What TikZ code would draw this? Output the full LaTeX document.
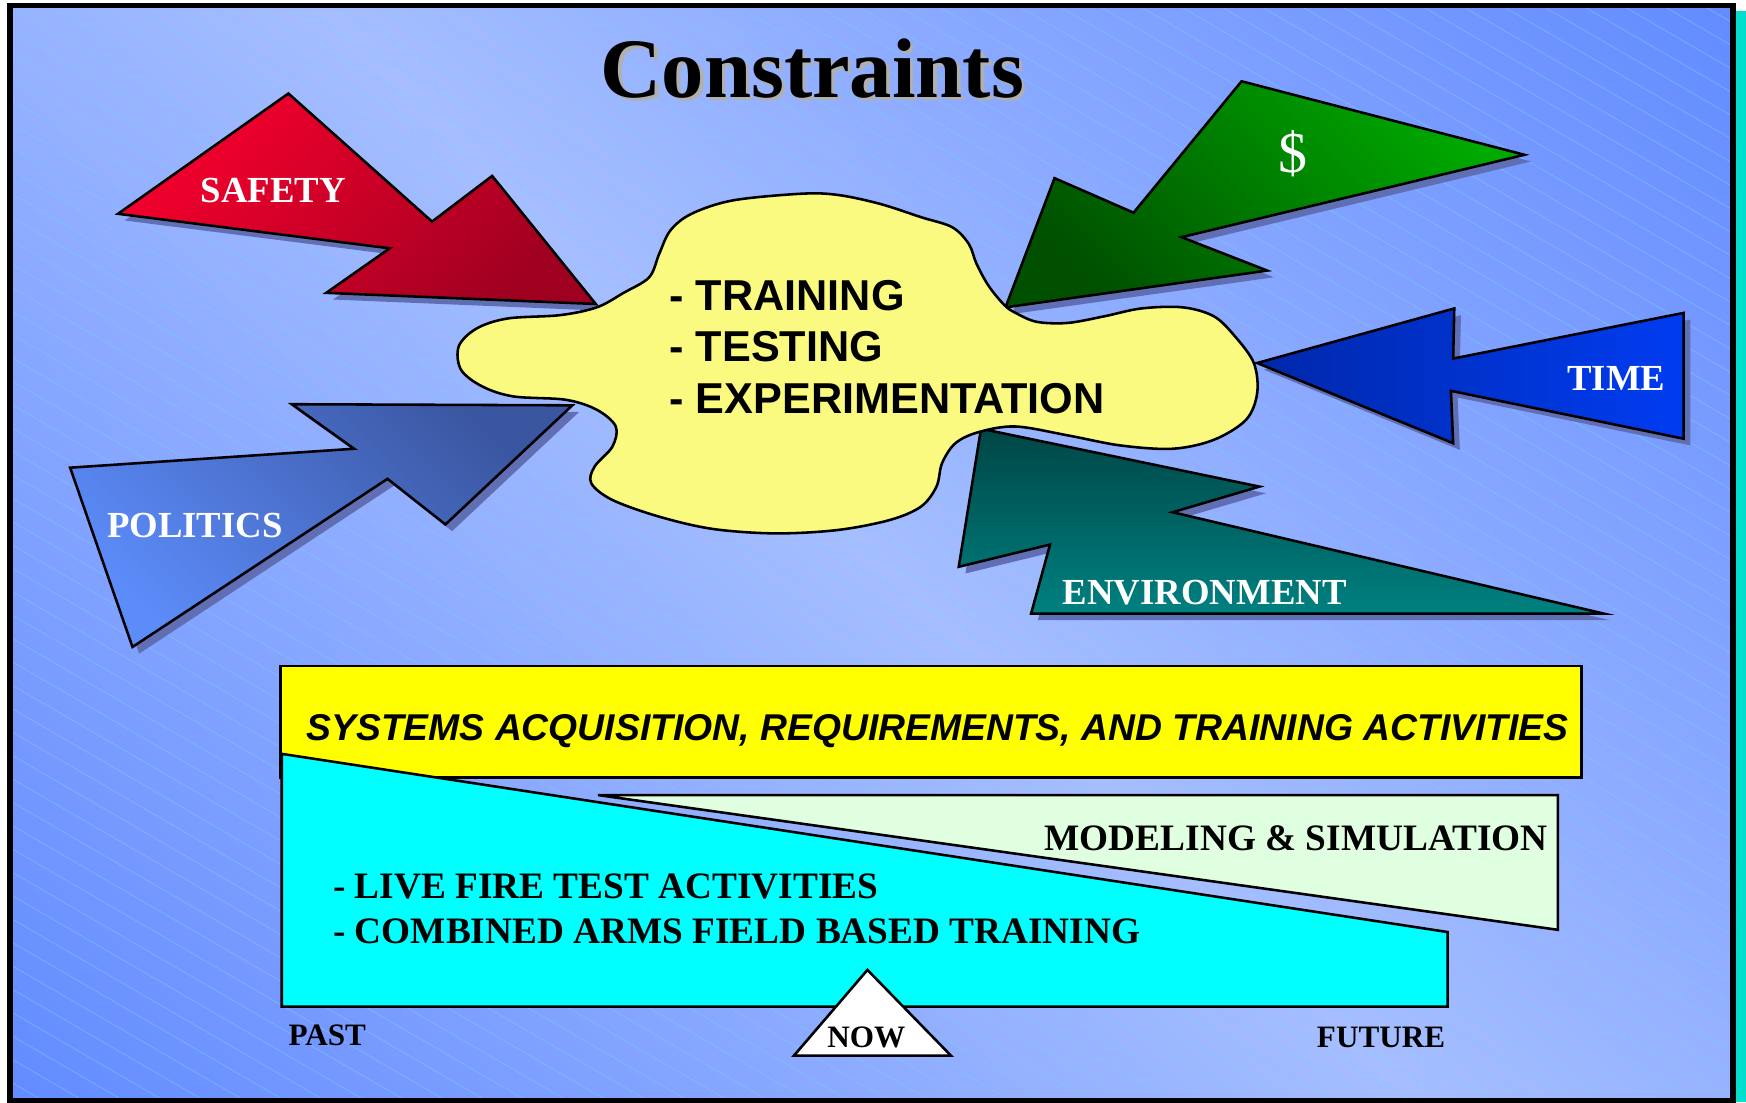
\documentclass[tikz,border=0pt]{standalone}
\usepackage{fontspec}
\setmainfont{Liberation Serif}
\newfontfamily\arialf{Liberation Sans}
\definecolor{bgdark}{RGB}{100,140,255}
\definecolor{bglight}{RGB}{166,190,255}
\definecolor{hatchc}{RGB}{120,205,255}
\definecolor{shadowc}{RGB}{96,110,180}
\definecolor{redA}{RGB}{245,0,45}
\definecolor{redB}{RGB}{160,0,32}
\definecolor{polA}{RGB}{92,140,250}
\definecolor{polB}{RGB}{58,86,160}
\definecolor{grnA}{RGB}{0,170,0}
\definecolor{grnB}{RGB}{0,80,0}
\definecolor{timA}{RGB}{0,40,170}
\definecolor{timB}{RGB}{0,60,240}
\definecolor{envA}{RGB}{0,70,70}
\definecolor{envB}{RGB}{0,128,128}
\definecolor{blobc}{RGB}{250,250,128}
\definecolor{msc}{RGB}{224,255,224}
\definecolor{cyanc}{RGB}{0,255,255}
\definecolor{yellowc}{RGB}{255,255,0}
\definecolor{tealc}{RGB}{0,222,206}
\definecolor{tshadow}{RGB}{176,176,176}
\pgfdeclarehorizontalshading{bgshade}{100bp}{color(0bp)=(bgdark); color(15bp)=(bgdark); color(50bp)=(bglight); color(85bp)=(bgdark); color(100bp)=(bgdark)}
\def\safetypath{(259,84) -- (106,192) -- (350,223) -- (293,263) -- (535,273) -- (442,158) -- (388,199) -- cycle}
\def\politicspath{(262,363) -- (514,364) -- (400,471) -- (348,430) -- (119,581) -- (63,420) -- (318,403) -- cycle}
\def\dollarpath{(1115,73) -- (1369,139) -- (1061,213) -- (1138,243) -- (903,276) -- (947,160) -- (1018,191) -- cycle}
\def\timepath{(1129,326) -- (1306,277) -- (1305,322) -- (1512,281) -- (1512,394) -- (1303,351) -- (1305,398) -- cycle}
\def\envpath{(881,385) -- (1131,437) -- (1053,460) -- (1440,551) -- (926,551) -- (943,489) -- (861,509) -- cycle}
\tikzset{
  arrowshape/.style={draw=black, line width=2.3pt, line join=miter},
  shadowshape/.style={fill=shadowc, draw=none},
  hatchline/.style={draw=hatchc, line width=0.7pt, opacity=0.55},
  whitelbl/.style={text=white, inner sep=0pt, font=\fontsize{33}{40}\selectfont\bfseries},
  blobtxt/.style={inner sep=0pt, anchor=base west, font=\arialf\fontsize{38.8}{44}\selectfont\bfseries},
  serifb/.style={inner sep=0pt, font=\fontsize{33.5}{40}\selectfont\bfseries},
  smallb/.style={inner sep=0pt, font=\fontsize{28}{34}\selectfont\bfseries},
  panel/.style={draw=black, line width=2.3pt, line join=miter},
  titlef/.style={inner sep=0pt, anchor=base, font=\fontsize{76}{90}\selectfont\bfseries}
}
\begin{document}
\begin{tikzpicture}[x=1pt,y=-1pt]
\useasboundingbox (0,0) rectangle (1568,990);
% teal shadow strip
\fill[tealc] (1559,10) rectangle (1568,990);
% background
\fill[shading=bgshade, shading angle=45] (9,5) rectangle (1556,988);
\begin{scope}
  \clip (9,5) rectangle (1556,988);
  \foreach \k in {-45,...,48} {
    \draw[hatchline] (0,\k*21) -- ++(1600,928);
  }
\end{scope}
% title
\node[titlef, text=tshadow] (titleshadow) at (732.6,90.4) {Constraints};
\node[titlef] (title) at (729.6,87.4) {Constraints};
% arrow shadows
\fill[shadowshape, shift={(6,6)}] \safetypath;
\fill[shadowshape, shift={(6,6)}] \politicspath;
\fill[shadowshape, shift={(6,6)}] \dollarpath;
\fill[shadowshape, shift={(6,6)}] \timepath;
\fill[shadowshape, shift={(6,6)}] \envpath;
% arrows
\draw[arrowshape, top color=redA, bottom color=redB, shading angle=45] \safetypath;
\draw[arrowshape, top color=polB, bottom color=polA, shading angle=-45] \politicspath;
\draw[arrowshape, top color=grnA, bottom color=grnB, shading angle=-45] \dollarpath;
\draw[arrowshape, left color=timA, right color=timB] \timepath;
\draw[arrowshape, top color=envA, bottom color=envB] \envpath;
% arrow labels
\node[whitelbl, anchor=base] (safety) at (245.5,182) {SAFETY};
\node[whitelbl, anchor=base] (politics) at (175,482.6) {POLITICS};
\node[whitelbl, anchor=base] (time) at (1451.5,351) {TIME};
\node[whitelbl, anchor=base] (env) at (1082,542.5) {ENVIRONMENT};
\node[inner sep=0pt, text=white, anchor=base, font=\fontsize{52}{60}\selectfont] (dollar) at (1161,155) {\$};
% blob
\draw[line width=2.3pt, fill=blobc] plot[smooth cycle, tension=0.55] coordinates {
(719,174) (658,180) (621,192) (602,207) (592,228) (583,249) (560,263) (536,276)
(503,283) (456,286) (428,295) (412,311) (414,332) (433,347) (461,356) (508,359)
(536,368) (553,383) (550,401) (534,419) (531,434) (550,449) (592,464) (640,475)
(696,479) (752,476) (799,467) (827,455) (841,437) (846,416) (858,398) (879,388)
(912,383) (959,391) (1006,400) (1053,403) (1090,395) (1119,377) (1129,353) (1126,326)
(1109,302) (1090,284) (1062,276) (1025,277) (992,284) (959,290) (931,289) (912,281)
(902,274) (888,257) (877,237) (870,219) (855,204) (827,195) (790,183) (752,175)};
\node[blobtxt] (training) at (601,278.5) {- TRAINING};
\node[blobtxt] (testing) at (601,324.9) {- TESTING};
\node[blobtxt] (experimentation) at (601,371.3) {- EXPERIMENTATION};
% lower panel
\draw[panel, fill=yellowc] (252,598) rectangle (1420,698);
\node[inner sep=0pt, anchor=base west, font=\arialf\fontsize{33.5}{40}\selectfont\bfseries\itshape] (systems) at (275,665.2) {SYSTEMS ACQUISITION, REQUIREMENTS, AND TRAINING ACTIVITIES};
\draw[panel, fill=cyanc] (253,677) -- (1300,837) -- (1300,904) -- (253,904) -- cycle;
\draw[panel, fill=msc] (537,714) -- (1399,714) -- (1399,835) -- cycle;
\node[serifb, anchor=base east] (modeling) at (1390,763.4) {MODELING \& SIMULATION};
\node[serifb, anchor=base west] (livefire) at (299,806.8) {- LIVE FIRE TEST ACTIVITIES};
\node[serifb, anchor=base west] (combined) at (299,847.2) {- COMBINED ARMS FIELD BASED TRAINING};
\draw[panel, fill=white] (779,871) -- (854,948) -- (713,948) -- cycle;
\node[smallb, anchor=base] (now) at (778,940.4) {NOW};
\node[smallb, anchor=base west] (past) at (259,938.5) {PAST};
\node[smallb, anchor=base east] (future) at (1298,941) {FUTURE};
% frame
\draw[black, line width=5pt] (9,5) rectangle (1556.4,988.5);
\end{tikzpicture}
\end{document}
